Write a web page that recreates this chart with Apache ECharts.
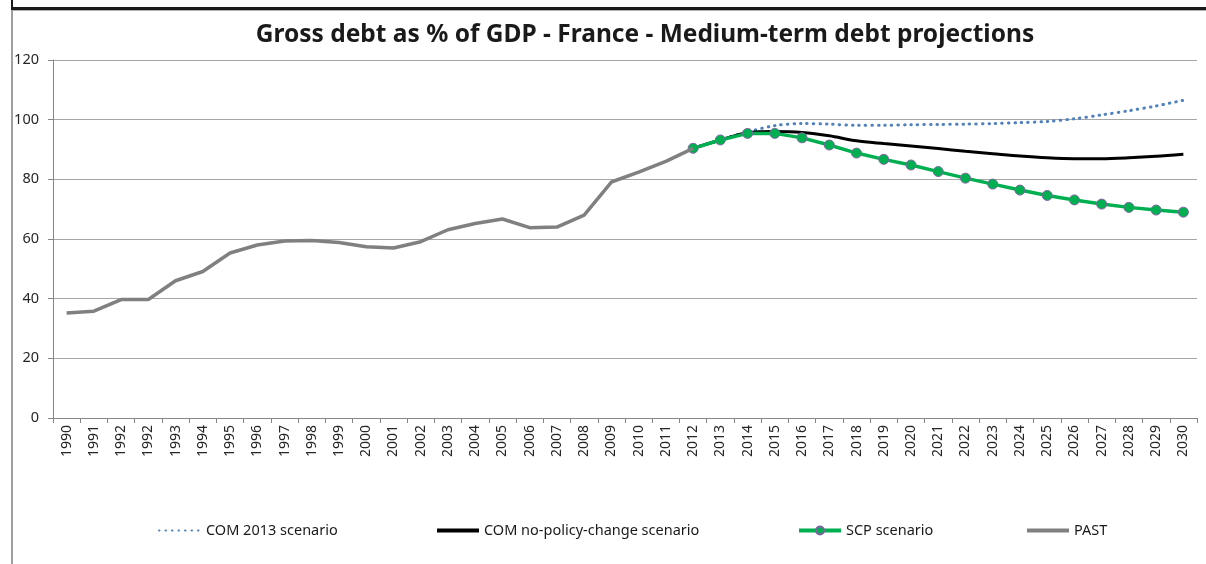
<!DOCTYPE html>
<html><head><meta charset="utf-8">
<script src="https://cdn.jsdelivr.net/npm/echarts@6/dist/echarts.min.js"></script>
<style>html,body{margin:0;padding:0;background:#fff}#c{width:1206px;height:564px}</style>
</head><body><div id="c"></div>
<script>
var categories = ['1990','1991','1992','1992','1993','1994','1995','1996','1997','1998','1999','2000','2001','2002','2003','2004','2005','2006','2007','2008','2009','2010','2011','2012','2013','2014','2015','2016','2017','2018','2019','2020','2021','2022','2023','2024','2025','2026','2027','2028','2029','2030'];
var yTicks = [0,20,40,60,80,100,120];
// past values (1990..2012), then projections 2012..2030 (19 values)
var past = [35.2,35.8,39.7,39.7,46.0,49.1,55.3,58.0,59.3,59.5,58.8,57.4,57.0,59.1,63.1,65.2,66.7,63.8,64.0,68.0,79.1,82.4,86.0,90.4];
var scp = [90.4,93.2,95.4,95.4,93.9,91.5,88.8,86.7,84.8,82.6,80.4,78.4,76.4,74.6,73.1,71.7,70.6,69.7,69.0];
var noPolicy = [90.4,93.2,95.6,96.0,95.7,94.6,92.9,92.0,91.2,90.3,89.4,88.6,87.8,87.2,86.9,86.9,87.2,87.7,88.4];
var com2013 = [90.4,93.3,95.9,98.0,98.7,98.5,98.1,98.1,98.3,98.4,98.5,98.7,99.0,99.4,100.3,101.6,103.0,104.6,106.5];
var seriesNames = ['COM 2013 scenario','COM no-policy-change scenario','SCP scenario','PAST'];

function padProj(arr){ var out=[]; for(var i=0;i<23;i++) out.push('-'); return out.concat(arr); }
var chart = echarts.init(document.getElementById('c'));
var ff = 'Noto Sans';
function leg(name, left, hideSym, lw){
  var d = hideSym ? {name:name, itemStyle:{opacity:0}} : {name:name};
  var o = {data:[d], left:left, top:518, itemWidth:42, itemHeight:10, itemGap:6,
    textStyle:{fontFamily:ff,fontSize:14.5,color:'#1a1a1a'}, selectedMode:false};
  if (lw) o.lineStyle = {width:lw};
  return o;
}
chart.setOption({
  animation:false,
  title:{text:'Gross debt as % of GDP - France - Medium-term debt projections', left:640, textAlign:'center', top:18,
    textStyle:{fontFamily:ff,fontWeight:'bold',fontSize:24.5,color:'#1a1a1a'}},
  legend:[leg(seriesNames[0],153,true),leg(seriesNames[1],430,true,4),leg(seriesNames[2],792,false,4),leg(seriesNames[3],1020,true,4)],
  grid:{left:53,right:9,top:60,bottom:146,containLabel:false},
  xAxis:{type:'category',data:categories,boundaryGap:true,
    axisLine:{lineStyle:{color:'#868686',width:1}},
    axisTick:{show:true,alignWithLabel:false,interval:0,length:5,lineStyle:{color:'#868686'}},
    axisLabel:{interval:0,rotate:90,fontFamily:ff,fontSize:14,color:'#262626',margin:7}},
  yAxis:{type:'value',min:yTicks[0],max:yTicks[yTicks.length-1],interval:20,
    axisLine:{show:true,lineStyle:{color:'#868686'}},
    axisTick:{show:true,length:5,lineStyle:{color:'#868686'}},
    axisLabel:{fontFamily:ff,fontSize:14.5,color:'#262626',margin:14},
    splitLine:{lineStyle:{color:'#a6a6a6',width:1}}},
  series:[
    {name:seriesNames[0],type:'line',data:padProj(com2013),symbol:'none',smooth:0.3,
      lineStyle:{color:'#4f81bd',width:3,type:[0.5,6],cap:'round'},itemStyle:{color:'#4f81bd'},z:2},
    {name:seriesNames[1],type:'line',data:padProj(noPolicy),symbol:'none',smooth:0.3,
      lineStyle:{color:'#000000',width:3},itemStyle:{color:'#000000'},z:3},
    {name:seriesNames[2],type:'line',data:padProj(scp),symbol:'circle',symbolSize:10,showAllSymbol:true,
      lineStyle:{color:'#00b050',width:3.5},itemStyle:{color:'#00b050',borderColor:'#8064a2',borderWidth:1},z:4},
    {name:seriesNames[3],type:'line',data:past,symbol:'none',
      lineStyle:{color:'#808080',width:3.5},itemStyle:{color:'#808080'},z:5}
  ],
  graphic:[
    {type:'rect',shape:{x:11,y:7,width:1200,height:3},style:{fill:'#1a1a1a'},silent:true},
    {type:'rect',shape:{x:11,y:0,width:2,height:10},style:{fill:'#1a1a1a'},silent:true},
    {type:'rect',shape:{x:12,y:10,width:1200,height:1},style:{fill:'#b0b0b0'},silent:true},
    {type:'rect',shape:{x:11,y:10,width:2,height:560},style:{fill:'#a0a0a0'},silent:true}
  ]
});
</script></body></html>
